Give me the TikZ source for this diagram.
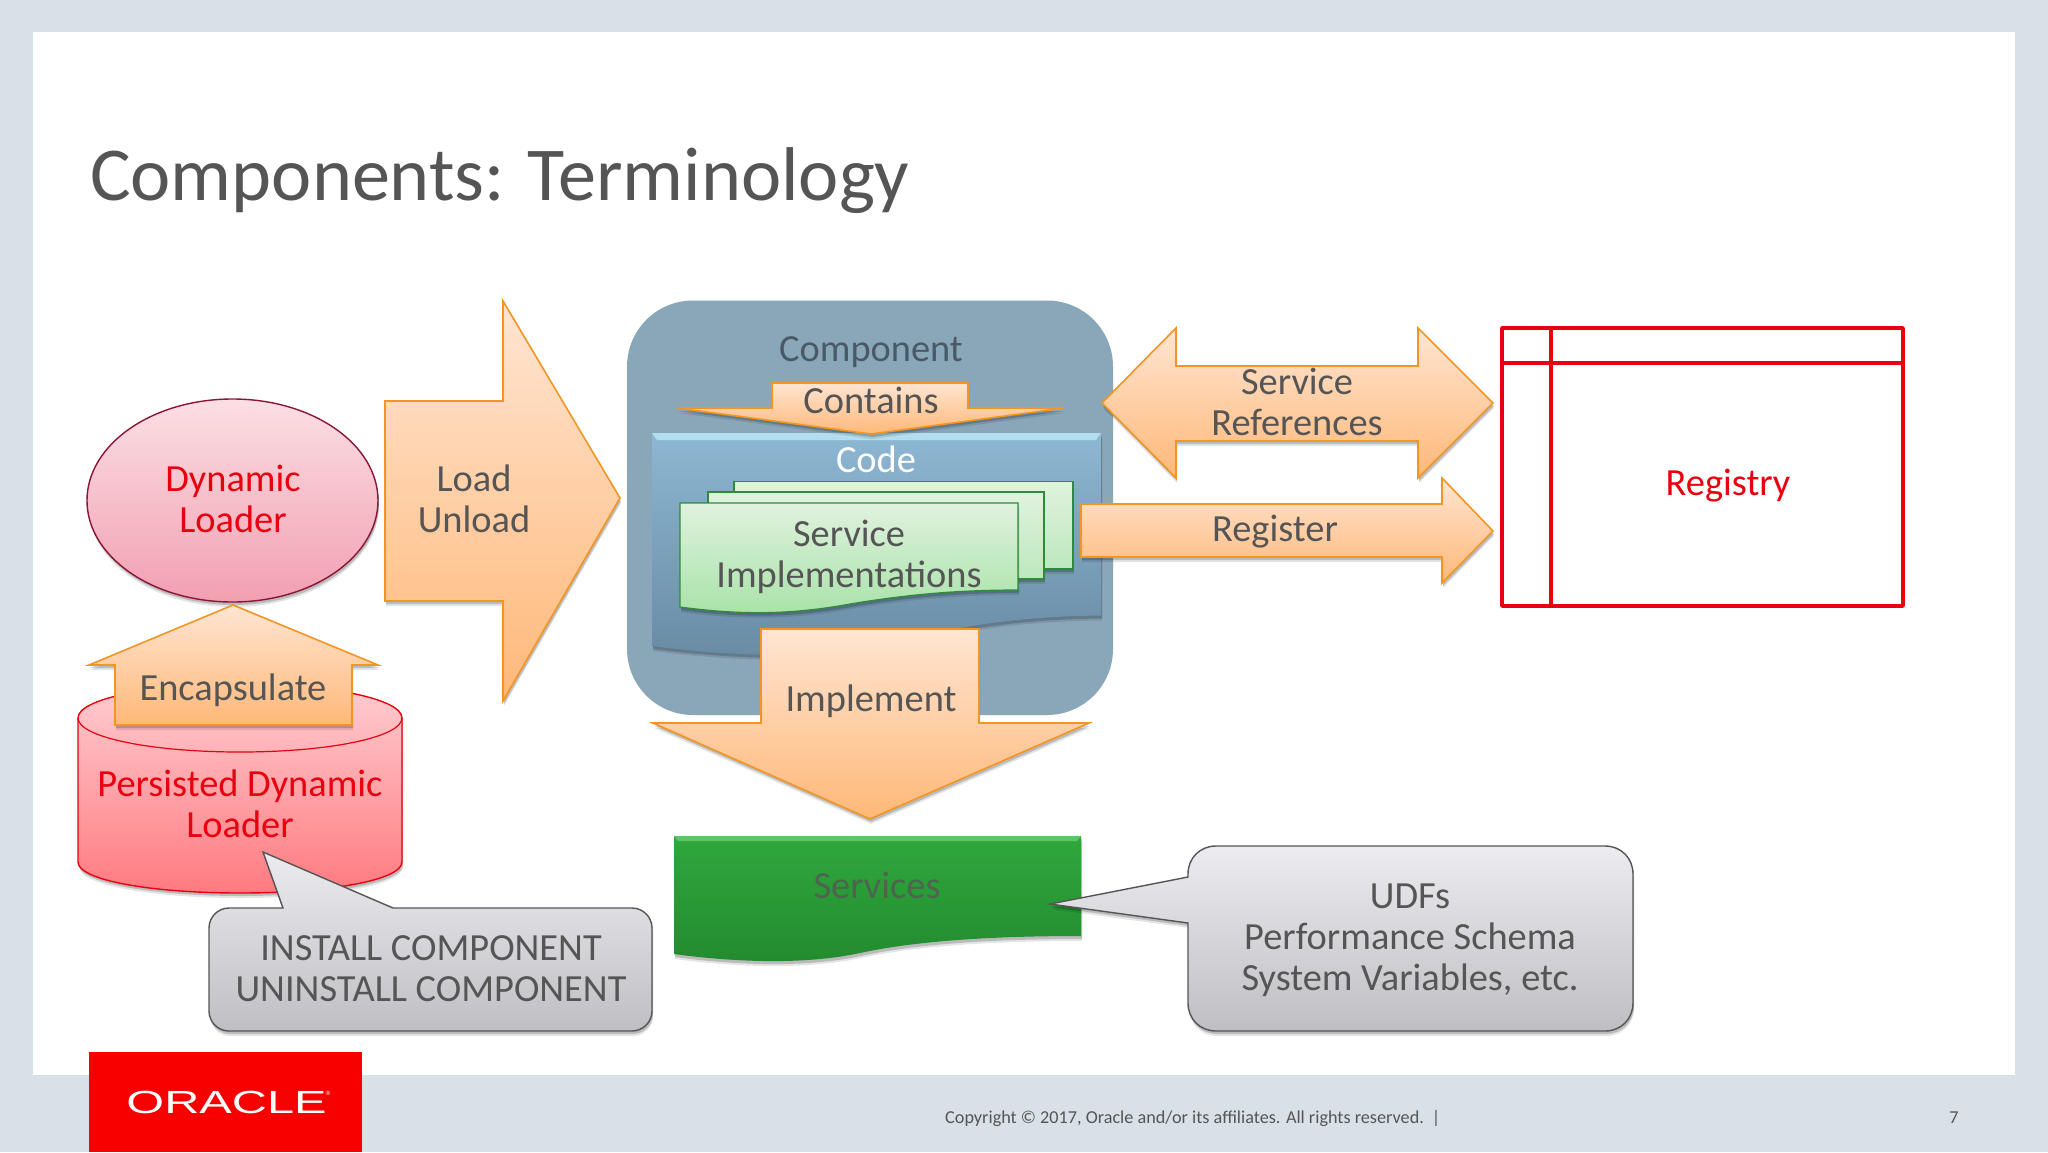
\documentclass[tikz,border=0pt]{standalone}
\usepackage{fontspec}
\setmainfont{Carlito}
\newfontfamily\logofont{Liberation Sans}
\usetikzlibrary{shadows,shapes.geometric}
\definecolor{pagebg}{HTML}{D9E1E8}
\definecolor{txtgray}{HTML}{555555}
\definecolor{regred}{HTML}{E8000F}
\definecolor{orclred}{HTML}{F80000}
\definecolor{compblue}{HTML}{8AA7BA}
\definecolor{comptxt}{HTML}{4A5966}
\definecolor{codetop}{HTML}{8DB7D3}
\definecolor{codebot}{HTML}{688AA3}
\definecolor{codehi}{HTML}{B2DEEE}
\definecolor{arrowline}{HTML}{F29522}
\definecolor{arrowtop}{HTML}{FFE5D2}
\definecolor{arrowbot}{HTML}{FFB878}
\definecolor{docline}{HTML}{2E8B3A}
\definecolor{doctop}{HTML}{E0F2DE}
\definecolor{docbot}{HTML}{BDE8BD}
\definecolor{docbotf}{HTML}{A8E2A8}
\definecolor{ellline}{HTML}{8A1538}
\definecolor{elltop}{HTML}{FBDFE4}
\definecolor{ellbot}{HTML}{F29FB0}
\definecolor{cyltop}{HTML}{FFCDD1}
\definecolor{cylbot}{HTML}{FF7A80}
\definecolor{srvtop}{HTML}{30A83E}
\definecolor{srvbot}{HTML}{228A2E}
\definecolor{srvhi}{HTML}{60C464}
\definecolor{srvtxt}{HTML}{4E644E}
\definecolor{calltop}{HTML}{ECECF0}
\definecolor{callbot}{HTML}{BFBFC3}
\definecolor{callline}{HTML}{555555}
\definecolor{foottxt}{HTML}{555555}
\tikzset{
  softshadow/.style={general shadow={shadow xshift=1pt,shadow yshift=-5pt,opacity=.10,fill=black},
                     general shadow={shadow xshift=1pt,shadow yshift=-3pt,opacity=.18,fill=black}},
  blockarrow/.style={draw=arrowline,line width=1.6pt,line join=miter,top color=arrowtop,bottom color=arrowbot,softshadow},
  callout/.style={draw=callline,line width=1.4pt,top color=calltop,bottom color=callbot,softshadow},
  lbl/.style={font=\fontsize{38.4}{41}\selectfont,text=txtgray,align=center,inner sep=0pt},
  redlbl/.style={lbl,text=regred},
  docback/.style={draw=docline,line width=1.2pt,top color=doctop,bottom color=docbot,softshadow},
}
\begin{document}
\begin{tikzpicture}[x=1pt,y=-1pt]
\useasboundingbox (0,0) rectangle (2048,1152);
\fill[pagebg] (0,0) rectangle (2048,1152);
\fill[white] (33,32) rectangle (2015,1075);
\fill[orclred] (89,1052) rectangle (362,1152);
\node[anchor=base west,inner sep=0pt,text=txtgray,font=\fontsize{76.2}{80}\selectfont] (title) at (90,200) {Components: Terminology};

% Component
\fill[compblue,rounded corners=66pt] (627,300.5) rectangle (1113,715);
\node[lbl,text=comptxt] (component) at (871,352) {Component};

% Code
\path[top color=codetop,bottom color=codebot,softshadow]
  (652,433) -- (1101,433) -- (1101,615.5) .. controls (1050,616) and (1000,620) .. (950,630) .. controls (880,650) and (800,665) .. (652,646) -- cycle;
\fill[codehi] (652,433) -- (1101,433) -- (1096,440) -- (657,440) -- cycle;
\node[lbl,text=white] (code) at (876,459) {Code};

% Service implementations
\path[docback] (734,481.5) rectangle (1073,569);
\path[docback] (708,492) rectangle (1044,579);
\path[draw=docline,line width=1.2pt,top color=doctop,bottom color=docbotf,softshadow]
  (680,503) -- (1018,503) -- (1018,590) .. controls (960,590) and (910,594) .. (850,604) .. controls (790,615) and (740,615) .. (680,607) -- cycle;
\node[lbl] (simpl) at (849,556.5) {Service\\Implementations};

% Contains
\path[blockarrow] (772,383) -- (968,383) -- (968,408) -- (1064,408) -- (871,434) -- (677,408) -- (772,408) -- cycle;
\node[lbl] (contains) at (871,400) {Contains};

% Implement
\path[blockarrow] (761,629) -- (979,629) -- (979,723) -- (1089,723) -- (870,819) -- (653,723) -- (761,723) -- cycle;
\node[lbl] (implement) at (871,701) {Implement};

% Load / Unload
\path[blockarrow] (385,401) -- (503,401) -- (503,301) -- (620,498) -- (503,701) -- (503,601) -- (385,601) -- cycle;
\node[lbl] (load) at (474,499) {Load\\Unload};

% Dynamic Loader
\node[ellipse,draw=ellline,line width=1.4pt,top color=elltop,bottom color=ellbot,softshadow,minimum width=291pt,minimum height=203pt,inner sep=0pt] (dyn) at (232.5,500.5) {};
\node[redlbl] (dynlbl) at (233,499) {Dynamic\\Loader};

% Persisted Dynamic Loader
\path[draw=regred,line width=1.4pt,top color=cyltop,bottom color=cylbot,softshadow]
  (78,718) -- (78,862) .. controls (78,880) and (150,893) .. (240,893) .. controls (330,893) and (402,880) .. (402,862) -- (402,718) .. controls (402,699) and (330,684) .. (240,684) .. controls (150,684) and (78,699) .. (78,718) -- cycle;
\path[draw=regred,line width=1.2pt] (78,718) .. controls (78,737) and (150,752) .. (240,752) .. controls (330,752) and (402,737) .. (402,718);
\node[redlbl] (pdl) at (240,804) {Persisted Dynamic\\Loader};

% Encapsulate
\path[blockarrow] (233,605) -- (378,665) -- (352,665) -- (352,725) -- (115,725) -- (115,665) -- (89,665) -- cycle;
\node[lbl] (encap) at (233,690) {Encapsulate};

% Install callout
\path[callout] (283,908) -- (263,852) -- (393,908) -- (632,908) .. controls (643,908) and (652,917) .. (652,928) -- (652,1011) .. controls (652,1022) and (643,1031) .. (632,1031) -- (229,1031) .. controls (218,1031) and (209,1022) .. (209,1011) -- (209,928) .. controls (209,917) and (218,908) .. (229,908) -- cycle;
\node[lbl] (install) at (431,969) {INSTALL COMPONENT\\UNINSTALL COMPONENT};

% Service references
\path[blockarrow] (1102,403) -- (1176,328) -- (1176,366) -- (1418,366) -- (1418,328) -- (1493,403) -- (1418,478) -- (1418,441) -- (1176,441) -- (1176,478) -- cycle;
\node[lbl] (srefs) at (1297,402) {Service\\References};

% Register
\path[blockarrow] (1081,504) -- (1442,504) -- (1442,478) -- (1493,531) -- (1442,583) -- (1442,557) -- (1081,557) -- cycle;
\node[lbl] (register) at (1275,532) {Register};

% Registry
\draw[regred,line width=3.6pt,line join=round] (1502,328) rectangle (1903,606);
\draw[regred,line width=3.6pt] (1551,328) -- (1551,606);
\draw[regred,line width=3.6pt] (1502,363) -- (1903,363);
\node[redlbl] (registry) at (1728,486) {Registry};

% Services
\path[top color=srvtop,bottom color=srvbot,softshadow]
  (674,836) -- (1081,836) -- (1081,936) .. controls (1000,936) and (920,940) .. (860,953) .. controls (800,966) and (725,961) .. (674,954) -- cycle;
\fill[srvhi] (674,836) -- (1081,836) -- (1077,841) -- (678,841) -- cycle;
\node[lbl,text=srvtxt] (services) at (877,885) {Services};

% UDF callout
\path[callout] (1188,877) -- (1188,874) .. controls (1188,858) and (1200,846) .. (1216,846) -- (1605,846) .. controls (1621,846) and (1633,858) .. (1633,874) -- (1633,1003) .. controls (1633,1019) and (1621,1031) .. (1605,1031) -- (1216,1031) .. controls (1200,1031) and (1188,1019) .. (1188,1003) -- (1188,923) -- (1050,904) -- cycle;
\node[lbl] (udfs) at (1410,940) {UDFs\\Performance Schema\\System Variables, etc.};

% Footer
\node[inner sep=0pt,text=white,xscale=1.52,transform shape,font=\logofont\fontsize{32}{32}\selectfont] (oracle) at (226.5,1102.5) {ORACLE};
\node[inner sep=0pt,text=white,font=\logofont\fontsize{6}{6}\selectfont] (reg) at (328,1093) {®};
\node[anchor=west,inner sep=0pt,text=foottxt,font=\fontsize{18.2}{20}\selectfont] (copy) at (945,1118) {Copyright © 2017, Oracle and/or its affiliates. All rights reserved.\hspace{8pt}|};
\node[inner sep=0pt,text=foottxt,font=\fontsize{18.2}{20}\selectfont] (pagenum) at (1954,1118) {7};
\end{tikzpicture}
\end{document}
